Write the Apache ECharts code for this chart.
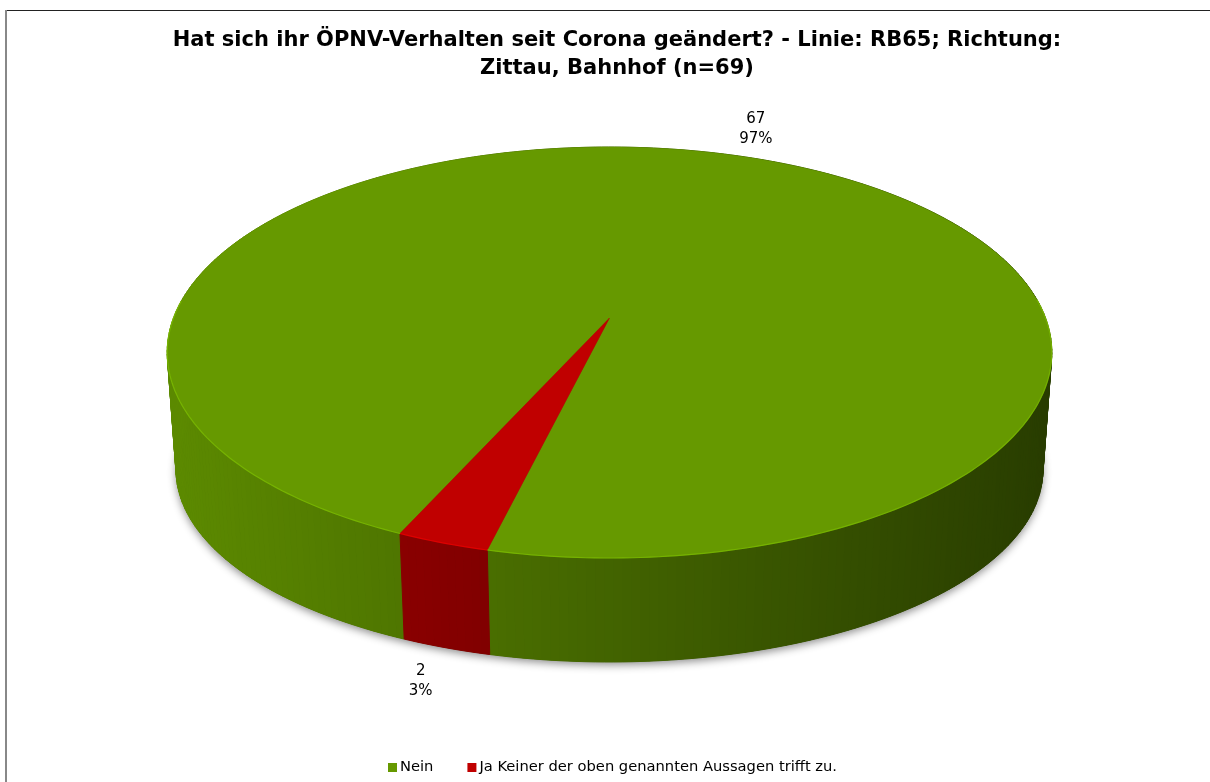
<!DOCTYPE html>
<html>
<head>
<meta charset="utf-8">
<script src="https://cdn.jsdelivr.net/npm/echarts@6/dist/echarts.min.js"></script>
<style>
html,body{margin:0;padding:0;background:#fff;}
#chart{width:1210px;height:782px;}
</style>
</head>
<body>
<div id="chart"></div>
<script>
// ---- data ----
const titleLines = ['Hat sich ihr ÖPNV-Verhalten seit Corona geändert? - Linie: RB65; Richtung:', 'Zittau, Bahnhof (n=69)'];
const categories = ['Nein', 'Ja Keiner der oben genannten Aussagen trifft zu.'];
const values = [67, 2];
const percentLabels = ['97%', '3%'];
const colors = ['#669900', '#C00000'];

// ---- 3D pie geometry (style / layout) ----
const CX = 609.5, CY = 318, A = 199.7, B = 436, P = 0.168;
const H = 119.8, K = 0.934, KB = 0.98, START = 204;
const FONT = '"DejaVu Sans", sans-serif';

function proj(theta, bottom) {
  const t = theta * Math.PI / 180;
  const u = Math.sin(t), w = Math.cos(t), s = 1 / (1 + P * w);
  if (!bottom) return [CX + B * u * s, CY - A * w * s];
  return [CX + B * KB * u * s, CY + H - A * K * w * s];
}
function hexToRgb(h) {
  return [parseInt(h.substr(1, 2), 16), parseInt(h.substr(3, 2), 16), parseInt(h.substr(5, 2), 16)];
}
function shade(hex, f) {
  const c = hexToRgb(hex).map(v => Math.max(0, Math.min(255, Math.round(v * f))));
  return 'rgb(' + c.join(',') + ')';
}
const total = values.reduce((a, b) => a + b, 0);

function makeRender(idx) {
  return function (params, api) {
    const val = api.value(0);
    let before = 0;
    for (let j = 0; j < idx; j++) before += values[j];
    const t1 = START + before / total * 360;
    const t2 = t1 + val / total * 360;
    const base = colors[idx];
    const children = [];
    if (idx === 0) {
      const pts = [];
      for (let a = 0; a < 360; a += 2) pts.push(proj(a, true));
      children.push({
        type: 'polygon', z2: 0, shape: { points: pts },
        style: { fill: '#3a5500', shadowBlur: 8, shadowOffsetY: 3, shadowColor: 'rgba(0,0,0,0.45)' }
      });
    }
    const n = Math.max(2, Math.ceil((t2 - t1) / 1));
    const step = (t2 - t1) / n;
    const left = CX - B, right = CX + B;
    const arc = [];
    for (let k = 0; k <= n; k++) arc.push(t1 + k * step);
    for (let k = 0; k < n; k++) {
      const a0 = arc[k], a1 = arc[k + 1];
      const p0 = proj(a0, false), p1 = proj(a1, false), q1 = proj(a1, true), q0 = proj(a0, true);
      const xm = (p0[0] + p1[0]) / 2;
      const f = 0.9 - 0.5 * (xm - left) / (right - left);
      const col = shade(base, f * (idx === 1 ? 0.93 : 1));
      children.push({
        type: 'polygon', z2: 1, shape: { points: [p0, p1, q1, q0] },
        style: { fill: col, stroke: col, lineWidth: 1 }
      });
    }
    const top = [[CX, CY]];
    arc.forEach(a => top.push(proj(a, false)));
    children.push({ type: 'polygon', z2: 10, shape: { points: top }, style: { fill: base, stroke: base, lineWidth: 0.5 } });
    // front rim highlight, split into continuous runs
    let run = [];
    const runs = [];
    arc.forEach(a => {
      if (Math.cos(a * Math.PI / 180) < 0.1) run.push(proj(a, false));
      else if (run.length) { runs.push(run); run = []; }
    });
    if (run.length) runs.push(run);
    runs.forEach(rp => {
      if (rp.length > 1) children.push({ type: 'polyline', z2: 11, shape: { points: rp },
        style: { fill: null, stroke: shade(base, 1.22), lineWidth: 1.2, opacity: 0.8 } });
    });
    // label
    const tm = (t1 + t2) / 2, r = tm * Math.PI / 180;
    const u = Math.sin(r), w = Math.cos(r);
    const anc = proj(tm, w < 0);
    const lx = anc[0] + u * 10 + Math.sign(u) * 22;
    const ly = anc[1] - (w * 10 + Math.sign(w) * 20) + 4;
    children.push({
      type: 'text', z2: 20, x: lx, y: ly,
      style: { text: val + '\n' + percentLabels[idx], fill: '#000', font: '15px ' + FONT,
        align: 'center', verticalAlign: 'middle', lineHeight: 20 }
    });
    return { type: 'group', children: children };
  };
}

const chart = echarts.init(document.getElementById('chart'), null, { renderer: 'canvas' });
chart.setOption({
  backgroundColor: '#fff',
  animation: false,
  title: {
    text: titleLines.join('\n'),
    left: 612, top: 22,
    textAlign: 'center',
    textStyle: { fontFamily: FONT, fontWeight: 'bold', fontSize: 21, color: '#000', lineHeight: 28 }
  },
  legend: {
    data: categories,
    left: 383, bottom: 2,
    icon: 'rect', itemWidth: 9, itemHeight: 9, itemGap: 34,
    textStyle: { fontFamily: FONT, fontSize: 14.7, color: '#000', padding: [0, 0, 0, -2] }
  },
  graphic: [
    { type: 'line', shape: { x1: 5, y1: 10.5, x2: 1210, y2: 10.5 }, style: { stroke: '#222', lineWidth: 1.2 } },
    { type: 'line', shape: { x1: 6, y1: 10, x2: 6, y2: 782 }, style: { stroke: '#888', lineWidth: 2 } }
  ],
  series: categories.map((name, i) => ({
    type: 'custom',
    name: name,
    coordinateSystem: 'none',
    itemStyle: { color: colors[i] },
    data: [[values[i]]],
    renderItem: makeRender(i)
  }))
});
</script>
</body>
</html>
